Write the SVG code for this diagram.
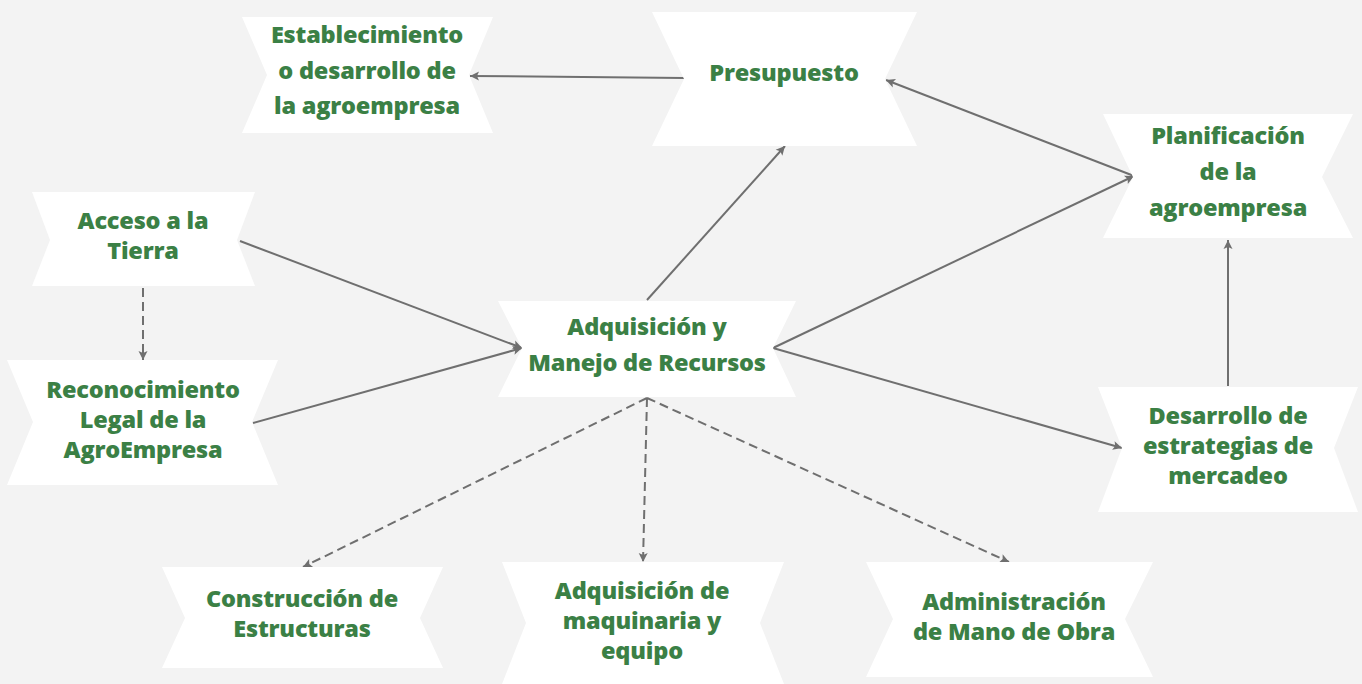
<svg xmlns="http://www.w3.org/2000/svg" width="1362" height="684" viewBox="0 0 1362 684">
<defs>
<style>
.node{fill:#ffffff;stroke:none}
.lbl{font-family:"Open Sans","Liberation Sans",sans-serif;font-weight:800;font-size:23.5px;letter-spacing:-0.2px;fill:#3b8045;text-anchor:middle}
.c{fill:none;stroke:#6f6f6f;stroke-width:2}
.d{stroke-dasharray:9 5}
</style>
<marker id="ah" markerUnits="userSpaceOnUse" markerWidth="12" markerHeight="12" viewBox="0 0 12 12" refX="10" refY="6" orient="auto">
<path d="M1,1.5 L10,6 L1,10.5 L3,6 Z" fill="#6f6f6f"/>
</marker>
</defs>
<rect x="0" y="0" width="1362" height="684" fill="#f3f3f3"/>

<g id="connectors">
<line class="c" x1="684" y1="78" x2="470" y2="76" marker-end="url(#ah)"/>
<line class="c" x1="1134" y1="176" x2="886" y2="80" marker-end="url(#ah)"/>
<line class="c" x1="647" y1="300" x2="785" y2="146" marker-end="url(#ah)"/>
<line class="c" x1="773" y1="348" x2="1134" y2="176" marker-end="url(#ah)"/>
<line class="c" x1="773" y1="348" x2="1122" y2="448" marker-end="url(#ah)"/>
<line class="c" x1="1228" y1="386" x2="1228" y2="240" marker-end="url(#ah)"/>
<line class="c" x1="240" y1="241" x2="522" y2="348" marker-end="url(#ah)"/>
<line class="c" x1="253" y1="423" x2="522" y2="348" marker-end="url(#ah)"/>
<line class="c d" x1="143" y1="288" x2="143" y2="360" marker-end="url(#ah)"/>
<line class="c d" x1="647" y1="398" x2="303" y2="567" marker-end="url(#ah)"/>
<line class="c d" x1="647" y1="398" x2="643" y2="562" marker-end="url(#ah)"/>
<line class="c d" x1="647" y1="398" x2="1009" y2="562" marker-end="url(#ah)"/>
</g>

<g id="n-establecimiento">
<polygon class="node" points="242,17 493,17 469,75 493,133 242,133 267,75"/>
<text class="lbl" x="367" y="43">Establecimiento</text>
<text class="lbl" x="367" y="79">o desarrollo de</text>
<text class="lbl" x="367" y="114">la agroempresa</text>
</g>

<g id="n-presupuesto">
<polygon class="node" points="652,12 917,12 885,79 917,146 652,146 684,79"/>
<text class="lbl" x="784" y="81">Presupuesto</text>
</g>

<g id="n-planificacion">
<polygon class="node" points="1103,114 1353,114 1322,177 1353,238 1103,238 1133,177"/>
<text class="lbl" x="1228" y="144">Planificación</text>
<text class="lbl" x="1228" y="180">de la</text>
<text class="lbl" x="1228" y="216">agroempresa</text>
</g>

<g id="n-acceso">
<polygon class="node" points="32,192 255,192 237,240 255,286 32,286 50,240"/>
<text class="lbl" x="143" y="229">Acceso a la</text>
<text class="lbl" x="143" y="259">Tierra</text>
</g>

<g id="n-reconocimiento">
<polygon class="node" points="7,360 278,360 252,422 278,485 7,485 33,422"/>
<text class="lbl" x="143" y="398">Reconocimiento</text>
<text class="lbl" x="143" y="428">Legal de la</text>
<text class="lbl" x="143" y="458">AgroEmpresa</text>
</g>

<g id="n-adquisicion">
<polygon class="node" points="498,301 796,301 773,348 796,397 498,397 522,348"/>
<text class="lbl" x="647" y="335">Adquisición y</text>
<text class="lbl" x="647" y="371">Manejo de Recursos</text>
</g>

<g id="n-desarrollo">
<polygon class="node" points="1098,387 1358,387 1334,448 1358,512 1098,512 1122,448"/>
<text class="lbl" x="1228" y="424">Desarrollo de</text>
<text class="lbl" x="1228" y="454">estrategias de</text>
<text class="lbl" x="1228" y="484">mercadeo</text>
</g>

<g id="n-construccion">
<polygon class="node" points="162,567 443,567 420,618 443,668 162,668 185,618"/>
<text class="lbl" x="302" y="607">Construcción de</text>
<text class="lbl" x="302" y="637">Estructuras</text>
</g>

<g id="n-maquinaria">
<polygon class="node" points="502,562 784,562 760,623 784,684 502,684 526,623"/>
<text class="lbl" x="642" y="599">Adquisición de</text>
<text class="lbl" x="642" y="629">maquinaria y</text>
<text class="lbl" x="642" y="659">equipo</text>
</g>

<g id="n-administracion">
<polygon class="node" points="866,562 1153,562 1125,619 1153,677 866,677 893,619"/>
<text class="lbl" x="1014" y="610">Administración</text>
<text class="lbl" x="1014" y="640">de Mano de Obra</text>
</g>
</svg>
